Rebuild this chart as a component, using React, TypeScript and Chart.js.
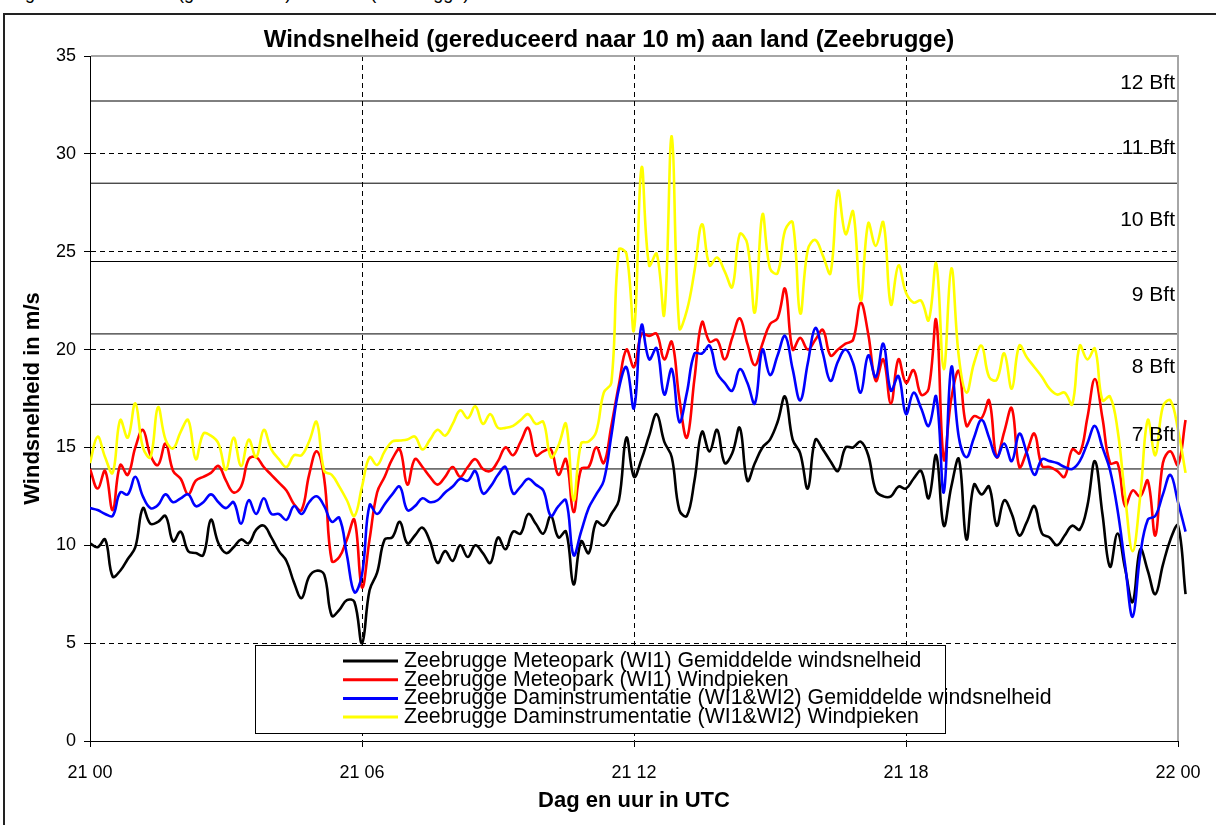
import React, { useEffect, useRef } from 'react';
import { Chart, registerables } from 'chart.js';

Chart.register(...registerables);

const FONT = '"Liberation Sans", Arial, Helvetica, sans-serif';

const chartTitle = 'Windsnelheid (gereduceerd naar 10 m) aan land (Zeebrugge)';
const figureCaption = 'Fig. 3: Windsnelheid (gereduceerd) aan land (Zeebrugge)';
const xAxisTitle = 'Dag en uur in UTC';
const yAxisTitle = 'Windsnelheid in m/s';
const xTickLabels = ['21 00', '21 06', '21 12', '21 18', '22 00'];
const SAMPLES_PER_HOUR = 6; // 10-minute samples, hours since 21 00
const X_MAX = 24;
const Y_MAX = 35;

const seriesNames = [
  'Zeebrugge Meteopark (WI1) Gemiddelde windsnelheid',
  'Zeebrugge Meteopark (WI1) Windpieken',
  'Zeebrugge Daminstrumentatie (WI1&WI2) Gemiddelde windsnelheid',
  'Zeebrugge Daminstrumentatie (WI1&WI2) Windpieken',
];
const seriesColors = ['#000000', '#ff0000', '#0000ff', '#ffff00'];

const meteoparkMean = [
  10.1, 9.9, 10.3, 8.4, 8.7, 9.3, 9.9, 11.9, 11.1, 11.2,
  11.5, 10.2, 10.7, 9.7, 9.6, 9.5, 11.3, 10.1, 9.6, 9.9,
  10.3, 10.1, 10.8, 11.0, 10.4, 9.7, 9.2, 8.1, 7.3, 8.4,
  8.7, 8.5, 6.4, 6.7, 7.2, 7.1, 5.0, 7.7, 8.6, 10.3,
  10.4, 11.2, 10.1, 10.5, 10.9, 10.2, 9.1, 9.7, 9.2, 10.0,
  9.4, 10.0, 9.6, 9.1, 10.4, 9.8, 10.7, 10.6, 11.6, 11.1,
  10.6, 11.5, 10.4, 10.7, 8.0, 10.2, 9.6, 11.2, 11.0, 11.6,
  12.3, 15.5, 13.5, 14.4, 15.6, 16.7, 15.3, 14.5, 11.8, 11.5,
  13.3, 15.8, 14.8, 15.9, 14.2, 14.7, 16.0, 13.3, 14.2, 15.0,
  15.4, 16.3, 17.6, 15.4, 14.7, 12.9, 15.4, 14.9, 14.3, 13.8,
  15.0, 15.0, 15.3, 14.6, 12.8, 12.5, 12.5, 13.0, 12.9, 13.4,
  13.8, 12.4, 14.6, 11.0, 13.0, 14.4, 10.3, 13.1, 12.6, 13.0,
  11.0, 12.3, 11.6, 10.5, 11.2, 12.0, 10.6, 10.4, 10.0, 10.5,
  11.0, 10.8, 12.0, 14.3, 11.6, 8.9, 10.6, 8.8, 7.1, 9.8,
  8.7, 7.5, 9.0, 10.3, 11.0, 7.5,
];

const meteoparkGust = [
  13.9, 12.9, 13.8, 11.8, 14.1, 13.6, 15.0, 15.9, 14.6, 14.1,
  15.2, 13.8, 13.4, 12.6, 13.3, 13.5, 13.7, 14.05, 13.3, 12.7,
  13.0, 14.4, 14.5, 14.0, 13.6, 13.2, 12.8, 12.1, 11.8, 13.6,
  14.8, 13.4, 9.2, 9.4, 10.3, 11.3, 7.85, 10.3, 12.7, 13.5,
  14.4, 14.9, 13.1, 14.4, 14.0, 13.5, 13.1, 13.5, 14.0, 13.5,
  14.0, 14.4, 13.9, 13.8, 14.3, 15.0, 14.6, 15.3, 16.0, 14.6,
  14.8, 14.9, 13.6, 14.4, 11.7, 13.9, 14.0, 15.0, 14.2, 16.1,
  18.2, 20.0, 19.1, 20.8, 20.7, 20.8, 19.5, 20.4, 17.5, 15.5,
  18.5, 21.4, 20.4, 20.5, 19.5, 20.6, 21.6, 20.3, 19.2, 20.3,
  21.3, 21.6, 23.1, 20.0, 20.6, 20.0, 20.5, 21.0, 19.7, 20.0,
  20.3, 20.5, 22.4, 20.8, 18.4, 19.5, 17.25, 19.5, 18.3, 18.95,
  17.7, 18.0, 21.5, 14.4, 17.5, 18.9, 16.1, 16.6, 16.5, 17.4,
  14.5, 15.8, 17.0, 14.0, 14.8, 15.7, 14.05, 14.0, 13.8, 13.5,
  14.9, 14.7, 16.5, 18.5, 16.5, 14.2, 14.2, 12.0, 12.8, 12.5,
  13.3, 10.5, 14.2, 14.8, 14.1, 16.4,
];

const damMean = [
  11.9, 11.8, 11.6, 11.5, 12.7, 12.6, 13.5, 12.5, 11.9, 12.06,
  12.6, 12.2, 12.4, 12.6, 12.0, 12.2, 12.6, 12.2, 11.9, 12.2,
  11.1, 12.3, 11.6, 12.4, 11.6, 11.6, 11.3, 12.0, 11.6, 12.2,
  12.5, 12.0, 11.2, 11.4, 9.5, 7.6, 8.5, 12.06, 11.6, 12.1,
  12.6, 13.0, 11.8, 12.0, 12.4, 12.2, 12.3, 12.7, 13.0, 13.4,
  13.3, 13.8, 12.65, 13.0, 13.6, 14.0, 12.65, 13.0, 13.4, 13.1,
  12.8, 11.5, 12.0, 12.3, 9.5, 10.7, 11.9, 12.6, 13.3, 15.6,
  18.0, 19.1, 17.0, 21.25, 19.5, 20.07, 17.7, 19.0, 16.3, 17.8,
  19.8, 19.8, 20.2, 18.8, 18.3, 17.9, 19.0, 18.3, 17.25, 20.0,
  18.7, 19.7, 20.7, 19.0, 17.4, 19.3, 21.1, 19.8, 18.4, 19.4,
  20.0, 19.3, 17.8, 19.7, 18.6, 20.3, 17.9, 18.65, 16.7, 17.8,
  17.0, 16.1, 17.6, 12.7, 19.1, 15.5, 14.5, 15.5, 16.4, 15.5,
  14.5, 15.2, 14.3, 15.7, 14.7, 13.6, 14.4, 14.3, 14.2, 14.0,
  13.9, 14.3, 15.2, 16.1, 15.0, 13.85, 11.8, 9.0, 6.35, 9.5,
  11.3, 11.5, 12.6, 13.6, 12.2, 10.7,
];

const damGust = [
  14.2, 15.55, 14.5, 13.7, 16.4, 15.5, 17.25, 15.0, 14.5, 17.05,
  15.4, 14.95, 15.8, 16.4, 14.4, 15.7, 15.6, 15.2, 13.85, 15.5,
  14.05, 15.4, 14.5, 15.9, 14.9, 14.4, 14.0, 14.6, 14.6, 15.3,
  16.3, 13.8, 13.6, 13.0, 12.3, 11.5, 13.0, 14.5, 14.1, 14.8,
  15.3, 15.35, 15.4, 15.55, 14.9, 15.4, 15.9, 15.6, 16.2, 16.9,
  16.5, 17.1, 16.2, 16.7, 16.0, 16.0, 16.1, 16.4, 16.7, 16.2,
  16.3, 14.5, 15.1, 16.2, 12.3, 15.2, 15.3, 15.8, 17.8, 18.3,
  25.1, 24.9, 21.0, 29.3, 24.3, 24.9, 21.8, 30.9, 21.1, 22.0,
  24.0, 26.4, 24.3, 24.7, 24.0, 23.2, 25.9, 25.4, 21.9, 26.9,
  24.15, 23.9, 26.1, 26.5, 21.85, 25.1, 25.6, 24.8, 23.9, 28.1,
  25.9, 27.05, 22.5, 26.45, 25.3, 26.5, 22.3, 24.3, 22.9, 22.4,
  22.5, 21.5, 24.4, 19.0, 24.15, 19.6, 17.8, 19.3, 20.2, 18.6,
  18.45, 19.8, 18.0, 20.2, 19.6, 19.1, 18.6, 18.0, 17.7, 17.8,
  17.2, 20.2, 19.5, 20.05, 17.4, 17.6, 15.9, 12.5, 9.7, 12.5,
  16.4, 14.6, 17.1, 17.4, 15.9, 13.7,
];

// Beaufort thresholds (m/s), their labels and the level each label sits at
const bftLevels = [13.9, 17.2, 20.8, 24.5, 28.5, 32.7];
const bftLabels = ['7 Bft', '8 Bft', '9 Bft', '10 Bft', '11 Bft', '12 Bft'];
const bftLabelLevels = [15.6, 19.1, 22.8, 26.6, 30.3, 33.6];

const seriesValues = [meteoparkMean, meteoparkGust, damMean, damGust];

const toPoints = (vals: number[]) => vals.map((v, i) => ({ x: i / SAMPLES_PER_HOUR, y: v }));

const titlePlugin = {
  id: 'centerTitle',
  afterDraw(chart: any) {
    const { ctx } = chart;
    ctx.save();
    ctx.font = `bold 24px ${FONT}`;
    ctx.fillStyle = '#000';
    ctx.textAlign = 'center';
    ctx.textBaseline = 'middle';
    ctx.fillText(chartTitle, chart.width / 2 - 1, 25);
    ctx.restore();
  },
};

const bftTextPlugin = {
  id: 'bftText',
  afterDatasetsDraw(chart: any) {
    const { ctx, chartArea, scales } = chart;
    const y = scales.y;
    ctx.save();
    ctx.font = `21px ${FONT}`;
    ctx.fillStyle = '#000';
    ctx.textAlign = 'right';
    ctx.textBaseline = 'middle';
    bftLabels.forEach((lab, k) => {
      ctx.fillText(lab, chartArea.right - 3, y.getPixelForValue(bftLabelLevels[k]));
    });
    ctx.restore();
  },
};

const legendBoxPlugin = {
  id: 'legendBox',
  afterDatasetsDraw(chart: any) {
    const { ctx, chartArea } = chart;
    const left = chartArea.left + 165;
    const top = chartArea.top + 589;
    const w = 690;
    const h = 88;
    ctx.save();
    ctx.fillStyle = '#fff';
    ctx.fillRect(left, top, w, h);
    ctx.strokeStyle = '#000';
    ctx.lineWidth = 1;
    ctx.strokeRect(left + 0.5, top + 0.5, w, h);
    ctx.font = `21.3px ${FONT}`;
    ctx.textBaseline = 'middle';
    ctx.textAlign = 'left';
    seriesNames.forEach((name, k) => {
      const cy = top + 16 + k * 18.7;
      ctx.strokeStyle = seriesColors[k];
      ctx.lineWidth = 3;
      ctx.beginPath();
      ctx.moveTo(left + 88, cy);
      ctx.lineTo(left + 143, cy);
      ctx.stroke();
      ctx.fillStyle = '#000';
      ctx.fillText(name, left + 149, cy);
    });
    ctx.restore();
  },
};

const plotFramePlugin = {
  id: 'plotFrame',
  afterDraw(chart: any) {
    const { ctx, chartArea } = chart;
    ctx.save();
    ctx.strokeStyle = '#a6a6a6';
    ctx.lineWidth = 2;
    ctx.beginPath();
    ctx.moveTo(chartArea.left + 1, chartArea.top);
    ctx.lineTo(chartArea.right, chartArea.top);
    ctx.lineTo(chartArea.right, chartArea.bottom);
    ctx.stroke();
    ctx.restore();
  },
};

export default function App() {
  const ref = useRef<HTMLCanvasElement>(null);

  useEffect(() => {
    if (!ref.current) return;
    const clip = { left: 0, top: 0, right: 14, bottom: 0 };
    const orders = [3, 2, 1, 0];
    const dataSets: any[] = seriesValues.map((vals, k) => ({
      label: seriesNames[k],
      data: toPoints(vals),
      borderColor: seriesColors[k],
      backgroundColor: seriesColors[k],
      borderWidth: 2.6,
      pointRadius: 0,
      tension: 0.4,
      fill: false,
      clip,
      order: orders[k],
    }));
    bftLevels.forEach((lvl) => {
      dataSets.push({
        label: 'bft',
        data: [{ x: 0, y: lvl }, { x: X_MAX, y: lvl }],
        borderColor: '#000',
        borderWidth: 1,
        pointRadius: 0,
        tension: 0,
        fill: false,
        order: 10,
      });
    });

    const chart = new Chart(ref.current, {
      type: 'line',
      data: { datasets: dataSets },
      plugins: [bftTextPlugin, legendBoxPlugin, plotFramePlugin, titlePlugin],
      options: {
        animation: false,
        responsive: false,
        layout: { padding: { left: 0, right: 38, top: 41, bottom: 0 } },
        font: { family: FONT },
        plugins: {
          legend: { display: false },
          tooltip: { enabled: false },
          title: { display: false },
        },
        scales: {
          x: {
            type: 'linear',
            afterDataLimits: (s: any) => { s.min = 0; s.max = X_MAX; },
            afterFit: (s: any) => { s.height = 84; },
            ticks: {
              stepSize: 6,
              autoSkip: false,
              maxRotation: 0,
              color: '#000',
              font: { family: FONT, size: 18 },
              padding: 15,
              callback: (v: any) => xTickLabels[Math.round(Number(v) / 6)] ?? '',
            },
            grid: {
              color: (c: any) => (c.tick && (c.tick.value === 0 || c.tick.value === X_MAX) ? 'rgba(0,0,0,0)' : '#000'),
              tickColor: '#000',
              tickLength: 6,
              lineWidth: 1,
            },
            border: { display: true, color: '#000', width: 1, dash: [5, 4] },
            title: {
              display: true,
              text: xAxisTitle,
              color: '#000',
              font: { family: FONT, size: 22, weight: 'bold' },
              padding: { top: 0, bottom: 11 },
            },
          },
          y: {
            min: 0,
            max: Y_MAX,
            afterFit: (s: any) => { s.width = 86; },
            ticks: {
              stepSize: 5,
              color: '#000',
              font: { family: FONT, size: 18 },
              padding: 8,
            },
            grid: {
              color: (c: any) => (c.tick && (c.tick.value === 0 || c.tick.value === Y_MAX) ? 'rgba(0,0,0,0)' : '#000'),
              tickColor: '#000',
              tickLength: 6,
              lineWidth: 1,
            },
            border: { display: true, color: '#000', width: 1, dash: [5, 4] },
            title: {
              display: true,
              text: yAxisTitle,
              color: '#000',
              font: { family: FONT, size: 22, weight: 'bold' },
              padding: { top: 16, bottom: 0 },
            },
          },
        },
      } as any,
    });
    return () => chart.destroy();
  }, []);

  return (
    <div style={{ position: 'fixed', left: 0, top: 0, width: 1216, height: 825, overflow: 'hidden', background: '#fff' }}>
      <div
        style={{
          position: 'absolute', left: 10, top: -16, whiteSpace: 'nowrap',
          fontFamily: FONT, fontSize: 18, lineHeight: '18px', color: '#000',
        }}
      >
        {figureCaption}
      </div>
      <div
        style={{
          position: 'absolute', left: 3, top: 13, width: 1213, height: 812,
          borderTop: '2px solid #222', borderLeft: '2px solid #222', background: 'transparent',
        }}
      />
      <canvas ref={ref} width={1212} height={810} style={{ position: 'absolute', left: 4, top: 15, display: 'block' }} />
    </div>
  );
}
